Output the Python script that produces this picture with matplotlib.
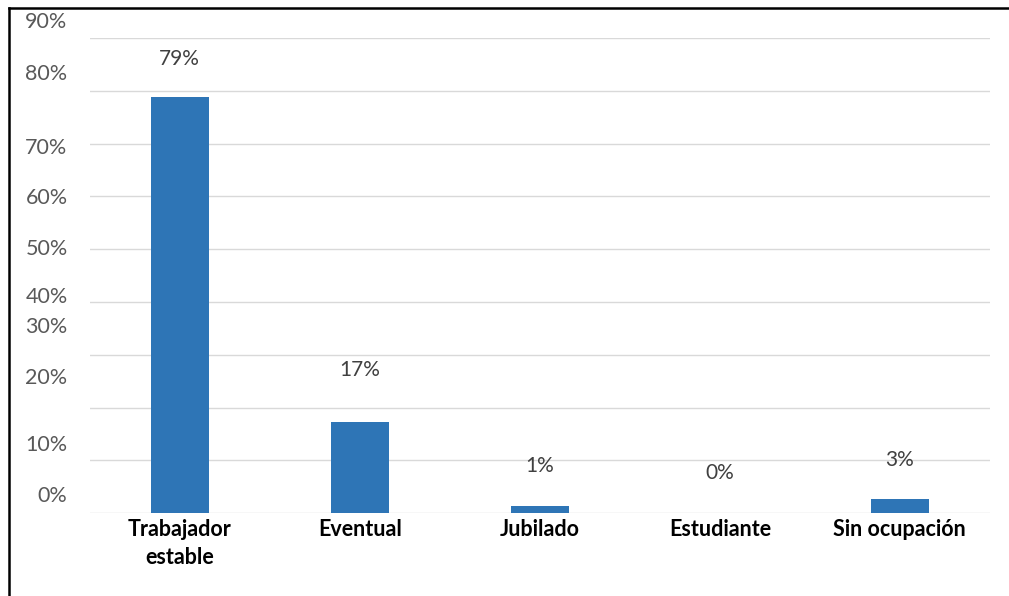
import numpy as np
import matplotlib.pyplot as plt
from matplotlib.lines import Line2D

plt.rcParams['font.family'] = ['Lato', 'DejaVu Sans']

categories = ['Trabajador\nestable', 'Eventual', 'Jubilado', 'Estudiante', 'Sin ocupación']
values = [78.9, 17.2, 1.3, 0.0, 2.7]
value_labels = ['79%', '17%', '1%', '0%', '3%']
# tick labels as they sit in the original (not aligned with the grid)
ytick_labels = ['90%', '80%', '70%', '60%', '50%', '40%', '30%', '20%', '10%', '0%']
ytick_pos = [93.0, 83.3, 69.1, 59.8, 50.0, 40.9, 35.2, 25.6, 12.9, 3.2]
label_offsets = [27, 38, 29, 29, 28]  # points above bar top

fig = plt.figure(figsize=(10.09, 5.96), dpi=100)
ax = fig.add_axes([0.089, 0.139, 0.892, 0.797])

x = np.arange(len(categories))
ax.bar(x, values, width=0.32, color='#2e75b6', zorder=3)

ax.set_xlim(-0.5, len(categories) - 0.5)
ax.set_ylim(0, 90)

# grid every 10%
ax.set_yticks(np.arange(0, 91, 10))
ax.grid(True, axis='y', color='#d9d9d9', lw=1, zorder=0)
ax.tick_params(axis='y', length=0, labelleft=False)

# y labels placed like the original
for pos, lab in zip(ytick_pos, ytick_labels):
    ax.annotate(lab, (0, pos), xycoords=ax.get_yaxis_transform(), xytext=(-16, 0),
                textcoords='offset points', ha='right', va='center',
                fontsize=15.5, color='#595959', annotation_clip=False)

ax.set_xticks(x)
ax.set_xticklabels(categories, fontsize=15.5, fontweight='bold', color='black', linespacing=1.45)
ax.tick_params(axis='x', length=0, pad=4)

for s in ax.spines.values():
    s.set_visible(False)

for xi, v, lab, off in zip(x, values, value_labels, label_offsets):
    ax.annotate(lab, (xi, v), xytext=(0, off), textcoords='offset points',
                ha='center', va='center', fontsize=15, color='#404040')

# outer frame (only left and top visible)
fig.add_artist(Line2D([0.009, 0.009], [0, 1 - 8 / 596], color='black', lw=1.8, transform=fig.transFigure))
fig.add_artist(Line2D([0.009, 1], [1 - 8 / 596, 1 - 8 / 596], color='black', lw=1.8, transform=fig.transFigure))

fig.savefig('out.png', dpi=100)
